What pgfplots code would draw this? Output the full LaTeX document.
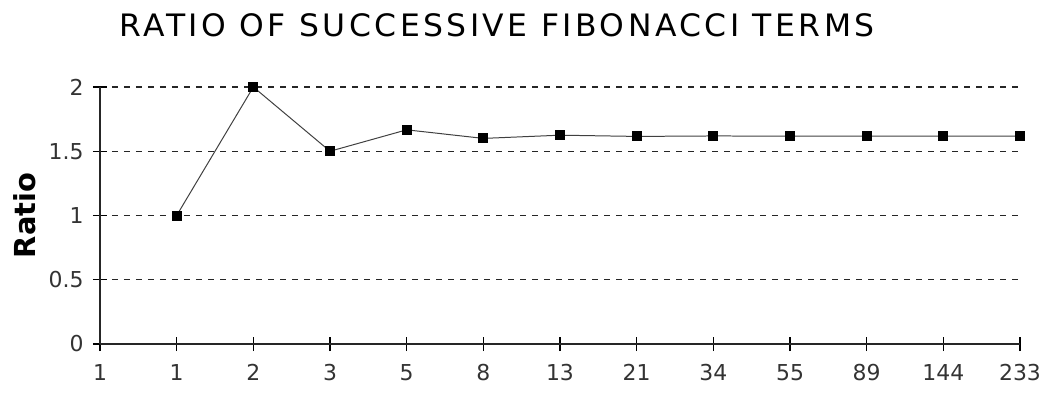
\documentclass[border=0pt]{standalone}
\usepackage{fontspec}
\setmainfont{DejaVu Sans}
\usepackage{pgfplots}
\pgfplotsset{compat=1.18}
\begin{document}
\begin{tikzpicture}
\useasboundingbox (-100bp,-57bp) rectangle (948bp,344bp);
\begin{axis}[
  at={(0,0)}, anchor=south west,
  scale only axis, width=920bp, height=257bp,
  xmin=0, xmax=12, ymin=0, ymax=2,
  axis x line=bottom, axis y line=left,
  x axis line style={-, line width=2pt, black!85},
  y axis line style={-, line width=2pt, black!85},
  xtick={0,1,2,3,4,5,6,7,8,9,10,11,12},
  xticklabels={1,1,2,3,5,8,13,21,34,55,89,144,233},
  ytick={0,0.5,1,1.5,2},
  tickwidth=14bp,
  xtick style={draw=black, line width=1.5pt, yshift=-7bp},
  ytick style={draw=black, line width=1.5pt, xshift=-7bp},
  tick align=inside,
  ymajorgrids, grid style={line width=1.4pt, black!85, dash pattern=on 6bp off 6bp, xshift=0bp, yshift=0bp},
  /pgf/number format/assume math mode=true,
  tick label style={font=\fontsize{22}{24}\selectfont, black!80},
  xticklabel style={yshift=-17bp},
  yticklabel style={xshift=-13bp},
  clip=false,
  every axis y label/.style={at={(axis description cs:-0.082,0.5)}, anchor=center, rotate=90},
  ylabel={\fontsize{29}{32}\selectfont\bfseries Ratio},
  every axis title/.style={at={(axis description cs:0.432,1.241)}, anchor=center},
  title={\scalebox{1.13}[1]{\fontspec{DejaVu Sans Condensed}[LetterSpace=10]\fontsize{31}{32}\selectfont RATIO OF SUCCESSIVE FIBONACCI TERMS}},
]
\addplot[black!75, line width=1pt, mark=square*, mark size=4.5bp, mark options={black, solid}] coordinates {
(1,1) (2,2) (3,1.5) (4,1.6667) (5,1.6) (6,1.625) (7,1.6154) (8,1.6190) (9,1.6176) (10,1.6182) (11,1.6180) (12,1.6181)
};
\end{axis}
\end{tikzpicture}
\end{document}
